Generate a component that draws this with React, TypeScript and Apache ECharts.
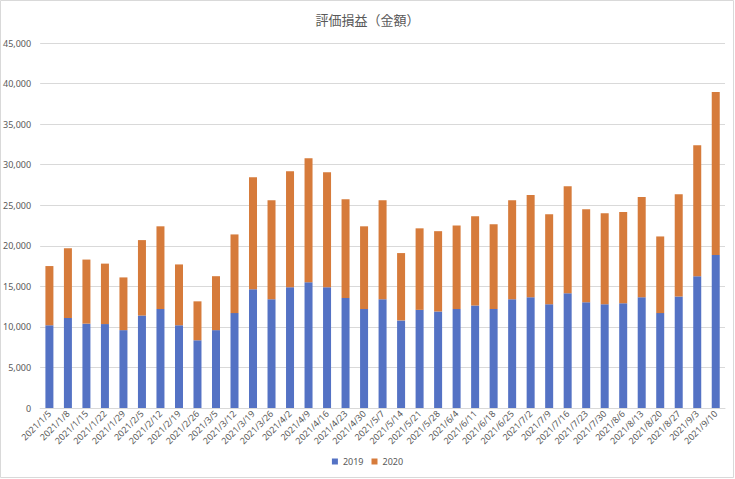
import React, { useEffect, useRef } from "react";
import * as echarts from "echarts";

const categories = [
  "2021/1/5", "2021/1/8", "2021/1/15", "2021/1/22", "2021/1/29",
  "2021/2/5", "2021/2/12", "2021/2/19", "2021/2/26",
  "2021/3/5", "2021/3/12", "2021/3/19", "2021/3/26",
  "2021/4/2", "2021/4/9", "2021/4/16", "2021/4/23", "2021/4/30",
  "2021/5/7", "2021/5/14", "2021/5/21", "2021/5/28",
  "2021/6/4", "2021/6/11", "2021/6/18", "2021/6/25",
  "2021/7/2", "2021/7/9", "2021/7/16", "2021/7/23", "2021/7/30",
  "2021/8/6", "2021/8/13", "2021/8/20", "2021/8/27",
  "2021/9/3", "2021/9/10",
];

const series2019 = [
  10200, 11100, 10400, 10350, 9600,
  11400, 12200, 10200, 8350,
  9600, 11700, 14650, 13400,
  14900, 15500, 14900, 13550, 12200,
  13400, 10800, 12100, 11900,
  12200, 12650, 12200, 13400,
  13650, 12800, 14150, 13050, 12800,
  12900, 13650, 11700, 13750,
  16250, 18850,
];

const series2020 = [
  7300, 8600, 7900, 7450, 6500,
  9300, 10200, 7500, 4800,
  6650, 9700, 13800, 12200,
  14300, 15300, 14150, 12200, 10200,
  12200, 8300, 10050, 9900,
  10300, 11000, 10450, 12200,
  12600, 11100, 13200, 11450, 11200,
  11250, 12350, 9450, 12600,
  16150, 20100,
];

const seriesNames = ["2019", "2020"];
const titleText = "評価損益（金額）";

export default function App() {
  const ref = useRef<HTMLDivElement>(null);
  useEffect(() => {
    if (!ref.current) return;
    const chart = echarts.init(ref.current, null, { renderer: "svg" });
    const labelColor = "#595959";
    const font = "'Noto Sans', 'Noto Sans CJK JP', sans-serif";
    chart.setOption({
      animation: false,
      backgroundColor: "#ffffff",
      textStyle: { fontFamily: font },
      title: {
        text: titleText,
        left: "center",
        top: 8,
        textStyle: {
          fontFamily: "'Noto Sans CJK JP', sans-serif",
          fontSize: 13,
          fontWeight: "normal",
          color: labelColor,
        },
      },
      legend: {
        bottom: 8,
        left: "center",
        itemWidth: 6,
        itemHeight: 6,
        itemGap: 8,
        icon: "rect",
        textStyle: { fontSize: 9, color: labelColor, fontFamily: font },
        data: seriesNames,
      },
      grid: { left: 40, right: 10, top: 43, bottom: 71 },
      xAxis: {
        type: "category",
        data: categories,
        axisTick: { show: false },
        axisLine: { lineStyle: { color: "#d9d9d9" } },
        axisLabel: {
          rotate: 45,
          fontSize: 9,
          color: labelColor,
          interval: 0,
          margin: 4,
          fontFamily: font,
        },
      },
      yAxis: {
        type: "value",
        min: 0,
        max: 45000,
        interval: 5000,
        axisLine: { show: false },
        axisTick: { show: false },
        splitLine: { lineStyle: { color: "#d9d9d9" } },
        axisLabel: {
          fontSize: 9,
          color: labelColor,
          margin: 9,
          fontFamily: font,
          formatter: (v: number) => v.toLocaleString("en-US"),
        },
      },
      series: [
        {
          name: seriesNames[0],
          type: "bar",
          stack: "total",
          data: series2019,
          barWidth: 8,
          itemStyle: { color: "#5472C4" },
        },
        {
          name: seriesNames[1],
          type: "bar",
          stack: "total",
          data: series2020,
          barWidth: 8,
          itemStyle: { color: "#D67B3B" },
        },
      ],
      graphic: [
        {
          type: "rect",
          shape: { x: 0.5, y: 0.5, width: 733, height: 477 },
          style: { fill: "none", stroke: "#d9d9d9", lineWidth: 1 },
          silent: true,
        },
      ],
    });
    return () => chart.dispose();
  }, []);
  return (
    <div
      ref={ref}
      style={{ position: "absolute", left: 0, top: 0, width: 735, height: 479 }}
    />
  );
}
